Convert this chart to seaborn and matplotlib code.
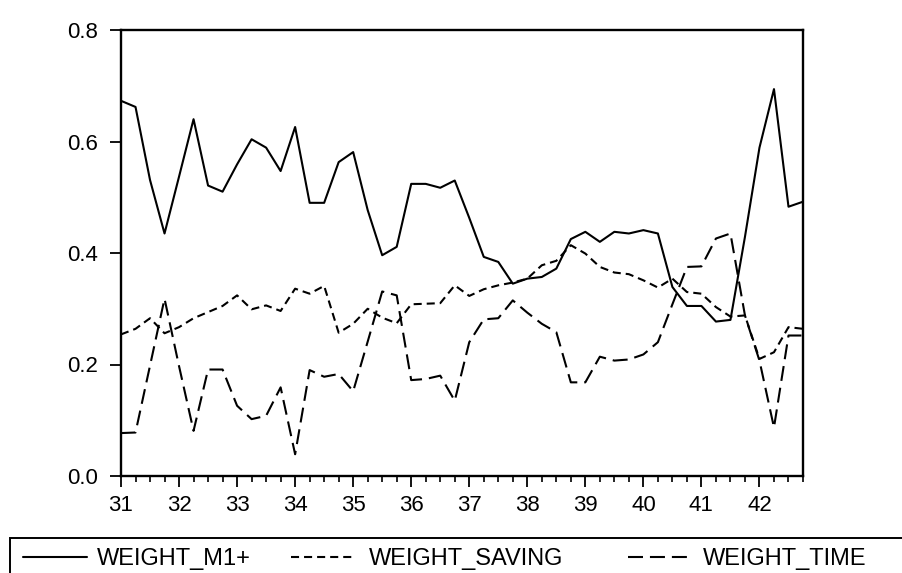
import numpy as np
import pandas as pd
import matplotlib
matplotlib.use("Agg")
import matplotlib.pyplot as plt
import seaborn as sns
from matplotlib.patches import Rectangle
from matplotlib.ticker import MultipleLocator, FixedLocator

# ---------------- data ----------------
years = list(range(31, 43))
quarter_offsets = [0.0, 0.25, 0.5, 0.75]
period = [y + q for y in years for q in quarter_offsets]

weight_m1 = [0.673, 0.662, 0.531, 0.435, 0.537, 0.640, 0.521, 0.510,
             0.559, 0.604, 0.589, 0.547, 0.626, 0.490, 0.490, 0.563,
             0.581, 0.477, 0.396, 0.411, 0.524, 0.524, 0.517, 0.530,
             0.463, 0.393, 0.384, 0.345, 0.354, 0.357, 0.372, 0.425,
             0.438, 0.420, 0.438, 0.435, 0.441, 0.435, 0.339, 0.305,
             0.305, 0.277, 0.280, 0.429, 0.589, 0.694, 0.483, 0.492]

weight_saving = [0.254, 0.264, 0.283, 0.256, 0.267, 0.283, 0.294, 0.305,
                 0.324, 0.299, 0.306, 0.296, 0.336, 0.327, 0.341, 0.257,
                 0.273, 0.300, 0.284, 0.274, 0.308, 0.309, 0.310, 0.342,
                 0.323, 0.335, 0.342, 0.347, 0.354, 0.378, 0.386, 0.414,
                 0.399, 0.375, 0.365, 0.362, 0.351, 0.338, 0.354, 0.330,
                 0.327, 0.303, 0.286, 0.288, 0.210, 0.222, 0.267, 0.264]

weight_time = [0.077, 0.078, 0.198, 0.318, 0.197, 0.081, 0.191, 0.191,
               0.126, 0.102, 0.108, 0.159, 0.039, 0.190, 0.178, 0.183,
               0.152, 0.241, 0.331, 0.324, 0.172, 0.174, 0.180, 0.135,
               0.240, 0.281, 0.283, 0.315, 0.293, 0.273, 0.258, 0.168,
               0.168, 0.214, 0.207, 0.209, 0.218, 0.240, 0.308, 0.375,
               0.376, 0.426, 0.435, 0.288, 0.207, 0.087, 0.252, 0.252]

series_names = ["WEIGHT_M1+", "WEIGHT_SAVING", "WEIGHT_TIME"]
x_tick_labels = [str(y) for y in years]
y_ticks = [0.0, 0.2, 0.4, 0.6, 0.8]
y_tick_labels = ["0.0", "0.2", "0.4", "0.6", "0.8"]

# ---------------- style ----------------
sns.set_theme(style="ticks")
plt.rcParams["font.family"] = ["Liberation Sans", "DejaVu Sans"]
plt.rcParams["lines.scale_dashes"] = False

W, H = 902, 573
fig = plt.figure(figsize=(W / 100, H / 100), dpi=100)
fig.patch.set_facecolor("white")
ax = fig.add_axes([121 / W, 1 - 476 / H, (803 - 121) / W, (476 - 30) / H])
ax.set_facecolor("white")

df = pd.DataFrame({
    "period": period,
    series_names[0]: weight_m1,
    series_names[1]: weight_saving,
    series_names[2]: weight_time,
})

line_styles = {
    series_names[0]: "-",
    series_names[1]: (0, (5.8, 3.6)),
    series_names[2]: (0, (10.8, 5.0)),
}

handles = []
for name in series_names:
    sns.lineplot(data=df, x="period", y=name, ax=ax, color="black",
                 linewidth=1.5, linestyle=line_styles[name], legend=False)
    handles.append(ax.get_lines()[-1])

ax.set_xlim(31, 42.75)
ax.set_ylim(0, 0.8)
ax.set_xlabel("")
ax.set_ylabel("")

ax.xaxis.set_major_locator(FixedLocator(years))
ax.set_xticklabels(x_tick_labels)
ax.xaxis.set_minor_locator(MultipleLocator(0.25))
ax.yaxis.set_major_locator(FixedLocator(y_ticks))
ax.set_yticklabels(y_tick_labels)
ax.yaxis.set_minor_locator(plt.NullLocator())

ax.tick_params(axis="both", which="major", direction="out", length=8,
               width=1.3, color="black", labelsize=16, labelcolor="black")
ax.tick_params(axis="x", which="major", pad=5.5)
ax.tick_params(axis="y", which="major", pad=8.5)
ax.tick_params(axis="x", which="minor", direction="out", length=4,
               width=1.2, color="black")
for sp in ax.spines.values():
    sp.set_color("black")
    sp.set_linewidth(1.7)

# ---------------- legend ----------------
box = Rectangle((10 / W, -0.05), 1.0, (1 - 538 / H) + 0.05,
                transform=fig.transFigure, fill=False, edgecolor="black",
                linewidth=1.4, clip_on=False)
fig.add_artist(box)

legend_specs = [
    (0, 23, 2.7, 0.45),
    (1, 291, 2.75, 0.55),
    (2, 628, 2.55, 0.62),
]
y_leg = 1 - 559 / H
for idx, xpx, hlen, tpad in legend_specs:
    leg = fig.legend([handles[idx]], [series_names[idx]], loc="center left",
                     bbox_to_anchor=(xpx / W, y_leg), frameon=False,
                     fontsize=17, handlelength=hlen, handletextpad=tpad,
                     borderpad=0, borderaxespad=0)
    for t in leg.get_texts():
        t.set_color("black")

fig.savefig("out.png", dpi=100, facecolor="white")
